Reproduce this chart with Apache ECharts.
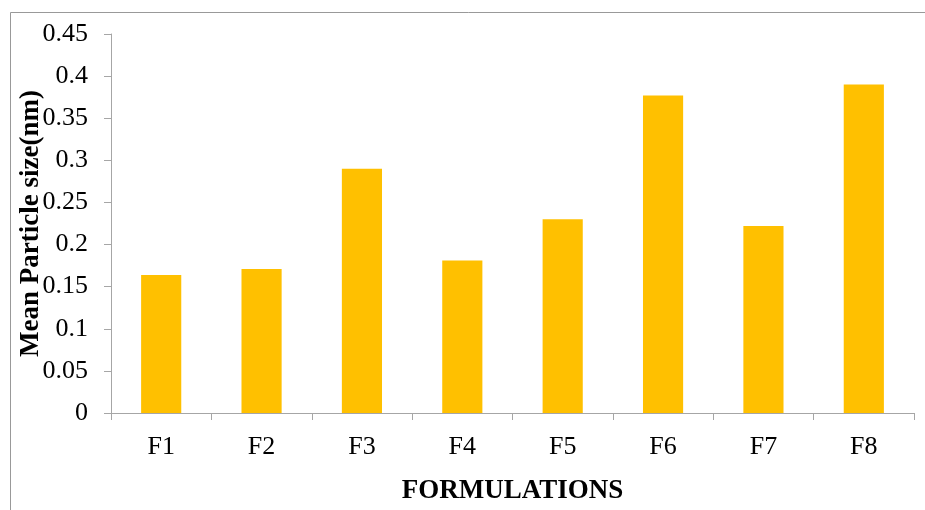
<!DOCTYPE html>
<html>
<head>
<meta charset="utf-8">
<script src="https://cdn.jsdelivr.net/npm/echarts@6/dist/echarts.min.js"></script>
<style>
  html, body { margin: 0; padding: 0; background: #fff; }
  #main { width: 925px; height: 510px; }
</style>
</head>
<body>
<div id="main"></div>
<script>
  var categories = ['F1', 'F2', 'F3', 'F4', 'F5', 'F6', 'F7', 'F8'];
  var particleSize = [0.164, 0.171, 0.290, 0.181, 0.230, 0.377, 0.222, 0.390];

  var font = '"Liberation Serif", "Times New Roman", serif';
  var axisGray = '#a6a6a6';

  var chart = echarts.init(document.getElementById('main'));
  chart.setOption({
    backgroundColor: '#fff',
    animation: false,
    graphic: [{
      type: 'rect',
      shape: { x: 10.5, y: 12.5, width: 1000, height: 600 },
      style: { fill: 'none', stroke: '#999', lineWidth: 1 }
    }],
    grid: { left: 111, right: 11, top: 34, bottom: 97, outerBoundsMode: 'none', containLabel: false },
    xAxis: {
      type: 'category',
      data: categories,
      name: 'FORMULATIONS',
      nameLocation: 'middle',
      nameGap: 65,
      nameMoveOverlap: false,
      nameTextStyle: { fontFamily: font, fontSize: 27, fontWeight: 'bold', color: '#000' },
      axisLine: { lineStyle: { color: axisGray, width: 1 } },
      axisTick: { show: true, length: 7, lineStyle: { color: axisGray } },
      axisLabel: { fontFamily: font, fontSize: 26, color: '#000', margin: 21 },
      splitLine: { show: false }
    },
    yAxis: {
      type: 'value',
      min: 0,
      max: 0.45,
      interval: 0.05,
      name: 'Mean Particle size(nm)',
      nameLocation: 'middle',
      nameGap: 66,
      nameMoveOverlap: false,
      nameTextStyle: { fontFamily: font, fontSize: 27, fontWeight: 'bold', color: '#000' },
      axisLine: { show: true, lineStyle: { color: axisGray, width: 1 } },
      axisTick: { show: true, length: 7, lineStyle: { color: axisGray } },
      axisLabel: { fontFamily: font, fontSize: 26, color: '#000', margin: 23 },
      splitLine: { show: false }
    },
    series: [{
      type: 'bar',
      data: particleSize,
      barWidth: '40%',
      itemStyle: { color: '#ffc000' }
    }]
  });
</script>
</body>
</html>
